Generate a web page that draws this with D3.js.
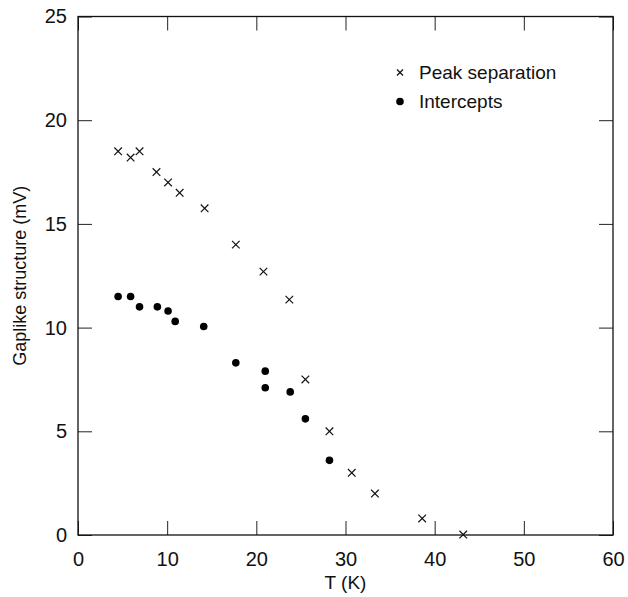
<!DOCTYPE html>
<html>
<head>
<meta charset="utf-8">
<script src="https://cdn.jsdelivr.net/npm/d3@7"></script>
<style>
    html, body { margin: 0; padding: 0; background: #fff; overflow: hidden; }
    svg { display: block; }
    text { font-family: "Liberation Sans", Arial, sans-serif; fill: #111; }
    .axis path { display: none; }
    .axis line { stroke: #222; stroke-width: 1; }
    .axis text { font-size: 20px; }
    .frame { fill: none; stroke: #111; stroke-width: 1.3; }
    .cross { stroke: #111; stroke-width: 1.2; }
    .dot { fill: #000; }
</style>
</head>
<body>
<svg id="chart" width="628" height="597"></svg>
<script>
// data: T in K, gaplike structure in mV
const peakT = [4.5, 5.9, 6.9, 8.8, 10.1, 11.4, 14.2, 17.7, 20.8, 23.7, 25.5, 28.2, 30.7, 33.3, 38.6, 43.2]
const peakV = [18.5, 18.2, 18.5, 17.5, 17.0, 16.5, 15.75, 14.0, 12.7, 11.35, 7.5, 5.0, 3.0, 2.0, 0.8, 0.02]
const interceptT = [4.5, 5.9, 6.9, 8.9, 10.1, 10.9, 14.1, 17.7, 21.0, 21.0, 23.8, 25.5, 28.2]
const interceptV = [11.5, 11.5, 11.0, 11.0, 10.8, 10.3, 10.05, 8.3, 7.9, 7.1, 6.9, 5.6, 3.6]
const xTicks = [0, 10, 20, 30, 40, 50, 60]
const yTicks = [0, 5, 10, 15, 20, 25]
const legendLabels = ["Peak separation", "Intercepts"]

const margin = { top: 16.5, left: 78, right: 15, bottom: 62 }
const width = 628
const height = 597
const innerWidth = width - margin.left - margin.right
const innerHeight = height - margin.top - margin.bottom
const tick = 14

const svg = d3.select("#chart")
const g = svg.append("g")
    .attr("transform", `translate(${margin.left}, ${margin.top})`)

const xScale = d3.scaleLinear().domain([0, 60]).range([0, innerWidth])
const yScale = d3.scaleLinear().domain([0, 25]).range([innerHeight, 0])

// axes with inward ticks on all four sides
g.append("g")
    .attr("class", "axis")
    .attr("transform", `translate(0, ${innerHeight})`)
    .call(d3.axisBottom(xScale).tickValues(xTicks).tickSizeInner(-tick).tickSizeOuter(0).tickPadding(17))
g.append("g")
    .attr("class", "axis")
    .call(d3.axisTop(xScale).tickValues(xTicks).tickSizeInner(-tick).tickSizeOuter(0))
    .selectAll("text").remove()
g.append("g")
    .attr("class", "axis")
    .call(d3.axisLeft(yScale).tickValues(yTicks).tickSizeInner(-tick).tickSizeOuter(0).tickPadding(11))
g.append("g")
    .attr("class", "axis")
    .attr("transform", `translate(${innerWidth}, 0)`)
    .call(d3.axisRight(yScale).tickValues(yTicks).tickSizeInner(-tick).tickSizeOuter(0))
    .selectAll("text").remove()

g.append("rect")
    .attr("class", "frame")
    .attr("width", innerWidth)
    .attr("height", innerHeight)

// axis titles
g.append("text")
    .attr("x", innerWidth / 2)
    .attr("y", innerHeight + 54)
    .attr("text-anchor", "middle")
    .style("font-size", "19px")
    .text("T (K)")

g.append("text")
    .attr("transform", "rotate(-90)")
    .attr("x", -innerHeight / 2)
    .attr("y", -52)
    .attr("text-anchor", "middle")
    .style("font-size", "18px")
    .text("Gaplike structure (mV)")

// markers
function cross(sel, s) {
    sel.append("line").attr("class", "cross").attr("x1", -s).attr("y1", -s).attr("x2", s).attr("y2", s)
    sel.append("line").attr("class", "cross").attr("x1", -s).attr("y1", s).attr("x2", s).attr("y2", -s)
}

const peaks = peakT.map((t, i) => ({ x: t, y: peakV[i] }))
const intercepts = interceptT.map((t, i) => ({ x: t, y: interceptV[i] }))

g.selectAll("g.peak")
    .data(peaks).enter()
    .append("g")
    .attr("class", "peak")
    .attr("transform", d => `translate(${xScale(d.x)}, ${yScale(d.y)})`)
    .each(function () { cross(d3.select(this), 3.8) })

g.selectAll("circle.dot")
    .data(intercepts).enter()
    .append("circle")
    .attr("class", "dot")
    .attr("cx", d => xScale(d.x))
    .attr("cy", d => yScale(d.y))
    .attr("r", 3.8)

// legend
const legend = g.append("g").attr("transform", `translate(${400 - margin.left}, ${72.5 - margin.top})`)
legend.append("g").call(sel => cross(sel, 3))
legend.append("circle").attr("class", "dot").attr("cy", 29).attr("r", 3.8)
legend.selectAll("text.leg")
    .data(legendLabels).enter()
    .append("text")
    .attr("class", "leg")
    .attr("x", 19)
    .attr("y", (d, i) => i * 29)
    .attr("dy", "0.35em")
    .style("font-size", "19px")
    .text(d => d)
</script>
</body>
</html>
